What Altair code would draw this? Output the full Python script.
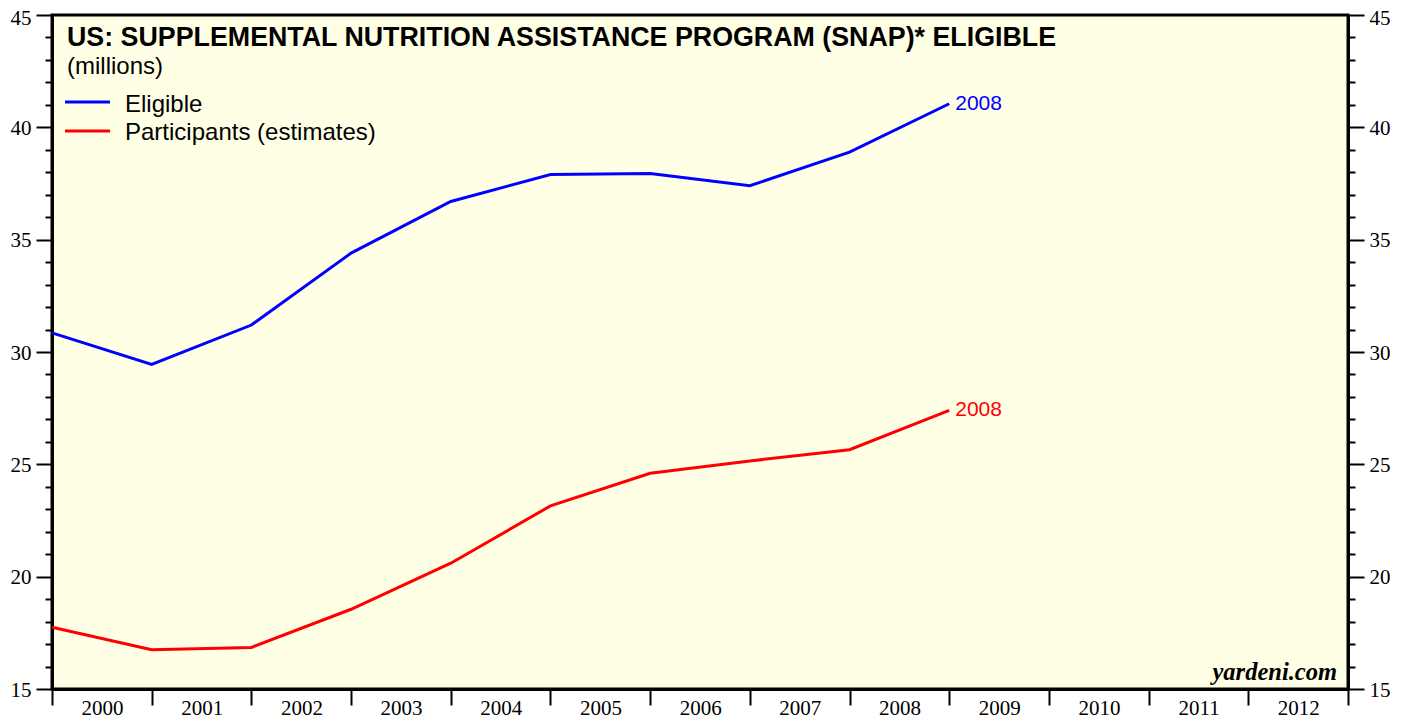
import altair as alt
import pandas as pd

# ---- data ----
years = [1999, 2000, 2001, 2002, 2003, 2004, 2005, 2006, 2007, 2008]
eligible = [30.85, 29.45, 31.2, 34.4, 36.7, 37.9, 37.95, 37.4, 38.9, 41.05]
participants = [17.75, 16.75, 16.85, 18.55, 20.6, 23.15, 24.6, 25.15, 25.65, 27.4]
series_names = ["Eligible", "Participants (estimates)"]
series_colors = ["#0000FF", "#FF0000"]
x_ticks = list(range(2000, 2014))
y_major = list(range(15, 45, 5))
y_top = [45]
y_minor = [v for v in range(15, 46) if v % 5 != 0]

title_text = "US: SUPPLEMENTAL NUTRITION ASSISTANCE PROGRAM (SNAP)* ELIGIBLE"
subtitle_text = "(millions)"
source_text = "yardeni.com"

rows = []
for name, vals in zip(series_names, [eligible, participants]):
    for yr, v in zip(years, vals):
        rows.append({"series": name, "year": yr, "value": v})
df = pd.DataFrame(rows)

SERIF = "Liberation Serif"
SANS = "Liberation Sans"

xscale = alt.Scale(domain=[2000, 2013], nice=False, zero=False)
yscale = alt.Scale(domain=[15, 45], nice=False, zero=False)

X_enc = alt.X(
    "x:Q",
    scale=xscale,
    axis=alt.Axis(
        values=x_ticks, format="d", title=None, grid=False,
        labelExpr="datum.value >= 2013 ? '' : datum.label",
        labelOffset=50, labelFlush=False, labelOverlap=False,
        tickSize=16, tickWidth=2, tickColor="black",
        domainWidth=3, domainColor="black",
        labelFont=SERIF, labelFontSize=21, labelColor="black",
        labelPadding=-8,
    ),
)

def yaxis(orient, values, size, labels, offset=1):
    kw = dict(
        orient=orient, values=values, title=None, grid=False,
        tickSize=size, tickWidth=2, tickColor="black",
        domainWidth=3, domainColor="black",
        labels=labels, labelFlush=False, labelOverlap=False,
    )
    if labels:
        kw.update(labelFont=SERIF, labelFontSize=21, labelColor="black",
                  labelPadding=5, labelOffset=offset)
    return alt.Axis(**kw)

color_enc = alt.Color(
    "series:N",
    scale=alt.Scale(domain=series_names, range=series_colors),
    legend=None,
)

base = alt.Chart(df).transform_calculate(x="datum.year + 1")

lines = base.mark_line(strokeWidth=3).encode(
    x=X_enc,
    y=alt.Y("value:Q", scale=yscale, axis=yaxis("left", y_major, 16, True)),
    color=color_enc,
)

def axis_layer(ax):
    return base.mark_line(opacity=0).encode(
        x=X_enc,
        y=alt.Y("value:Q", scale=yscale, axis=ax),
        detail="series:N",
    )

left_top = axis_layer(yaxis("left", y_top, 16, True, offset=3))
left_minor = axis_layer(yaxis("left", y_minor, 7, False))
right_major = axis_layer(yaxis("right", y_major, 16, True))
right_top = axis_layer(yaxis("right", y_top, 16, True, offset=3))
right_minor = axis_layer(yaxis("right", y_minor, 7, False))

end_labels = base.transform_filter("datum.year == 2008").mark_text(
    align="left", baseline="middle", dx=6, font=SANS, fontSize=21
).encode(
    x=X_enc,
    y=alt.Y("value:Q", scale=yscale, axis=None),
    color=color_enc,
    text=alt.Text("year:Q", format="d"),
)

one = pd.DataFrame({"a": [0]})

title = alt.Chart(one).mark_text(
    align="left", baseline="alphabetic", font=SANS, fontSize=26.8,
    fontWeight="bold", color="black"
).encode(x=alt.value(15), y=alt.value(31), text=alt.value(title_text))

subtitle = alt.Chart(one).mark_text(
    align="left", baseline="alphabetic", font=SANS, fontSize=24, color="black"
).encode(x=alt.value(15), y=alt.value(59), text=alt.value(subtitle_text))

legend_df = pd.DataFrame({"series": series_names, "row": [0, 1]})
legend_lines = []
legend_texts = []
line_y = [87, 116]
text_y = [97, 125]
for i, name in enumerate(series_names):
    d = legend_df[legend_df["series"] == name]
    legend_lines.append(
        alt.Chart(d).mark_rule(strokeWidth=3).encode(
            x=alt.value(13), x2=alt.value(58), y=alt.value(line_y[i]),
            color=color_enc,
        )
    )
    legend_texts.append(
        alt.Chart(d).mark_text(
            align="left", baseline="alphabetic", font=SANS, fontSize=24, color="black"
        ).encode(x=alt.value(73), y=alt.value(text_y[i]), text="series:N")
    )

source = alt.Chart(one).mark_text(
    align="right", baseline="alphabetic", font=SERIF, fontSize=24.5,
    fontWeight="bold", fontStyle="italic", color="black"
).encode(x=alt.value(1285), y=alt.value(665), text=alt.value(source_text))

chart = alt.layer(
    lines, left_top, left_minor, right_major, right_top, right_minor, end_labels,
    title, subtitle, *legend_lines, *legend_texts, source,
).resolve_axis(y="independent").properties(
    width=1296, height=674,
    autosize=alt.AutoSizeParams(type="none"),
    padding={"left": 44, "top": 7, "right": 51, "bottom": 30},
    background="white",
).configure_view(fill="#FFFFE6", stroke="black", strokeWidth=3)

chart.save("out.html", embed_options={"renderer": "svg", "actions": False})
